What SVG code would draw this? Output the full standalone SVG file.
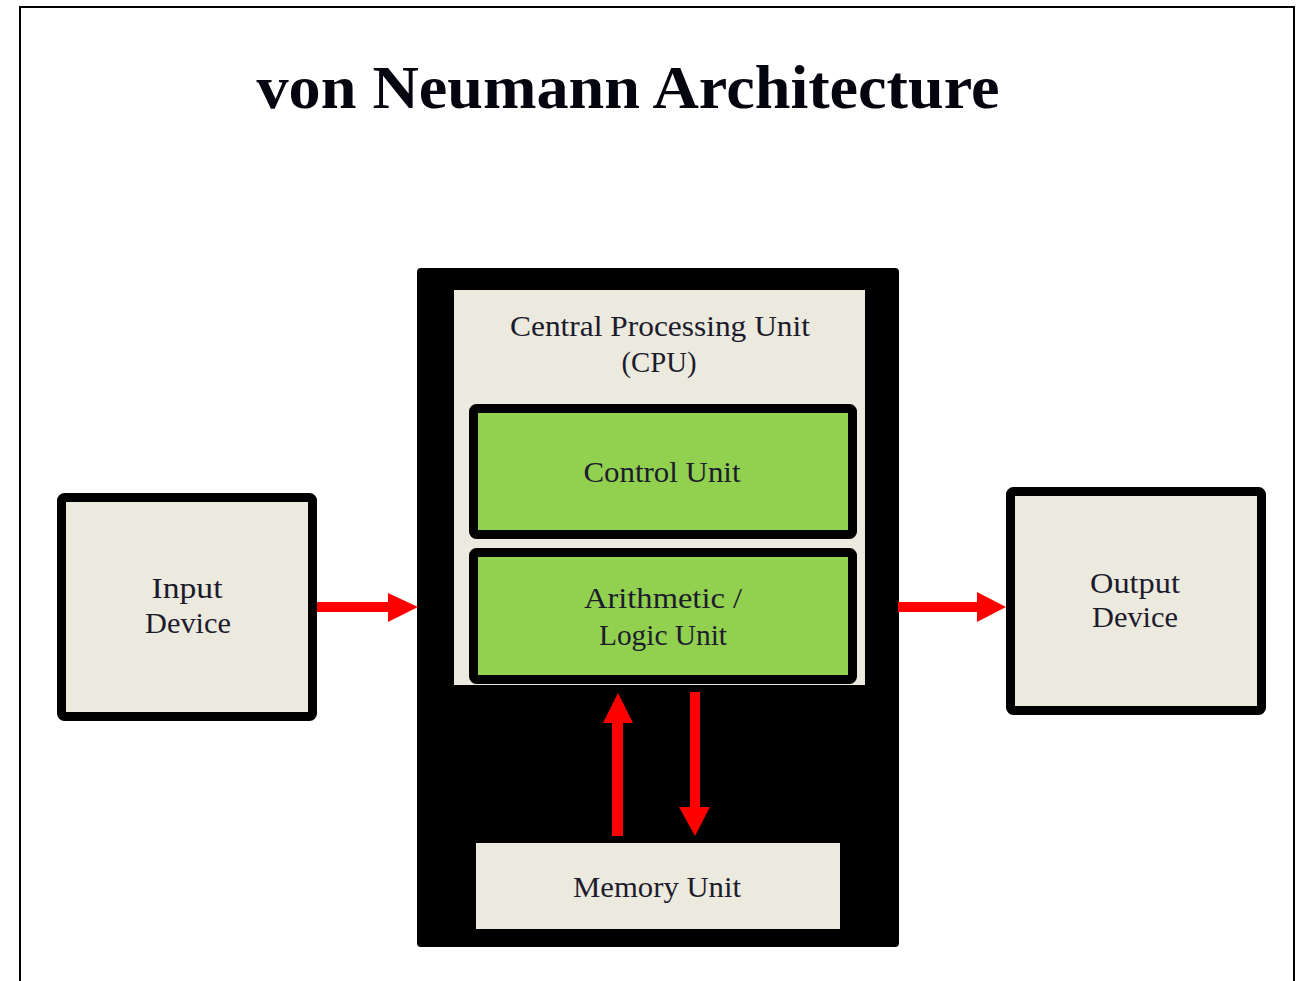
<svg xmlns="http://www.w3.org/2000/svg" width="1304" height="981" viewBox="0 0 1304 981">
  <style>
    .lbl { font-family: "Liberation Serif", "DejaVu Serif", serif; font-size: 29px; fill: #1c1c2c; text-anchor: middle; }
    .title { font-family: "Liberation Serif", "DejaVu Serif", serif; font-size: 62px; font-weight: bold; fill: #050510; text-anchor: middle; }
    .box { fill: #ece9df; stroke: #000; stroke-width: 9; }
    .unit { fill: #92d050; stroke: #000; stroke-width: 9; }
    .flow { fill: #ff0000; }
  </style>
  <rect width="1304" height="981" fill="#fff"/>
  <!-- page frame -->
  <path d="M20 985 V7 H1294 V985" fill="none" stroke="#000" stroke-width="2"/>

  <text class="title" x="628" y="108" textLength="743" lengthAdjust="spacingAndGlyphs">von Neumann Architecture</text>

  <g id="input-device">
    <rect class="box" x="61.5" y="497.5" width="251" height="219" rx="3"/>
    <text class="lbl" x="187" y="598" textLength="71" lengthAdjust="spacingAndGlyphs">Input</text>
    <text class="lbl" x="188" y="633" textLength="86" lengthAdjust="spacingAndGlyphs">Device</text>
  </g>

  <g id="cpu">
    <rect x="417" y="268" width="482" height="679" rx="4" fill="#000"/>
    <rect x="454" y="290" width="411" height="395" fill="#ece9df"/>
    <text class="lbl" x="660" y="336" textLength="300" lengthAdjust="spacingAndGlyphs">Central Processing Unit</text>
    <text class="lbl" x="659" y="372" textLength="75" lengthAdjust="spacingAndGlyphs">(CPU)</text>
  </g>

  <g id="control-unit">
    <rect class="unit" x="473.5" y="408.5" width="379" height="126" rx="3"/>
    <text class="lbl" x="662" y="482" textLength="157" lengthAdjust="spacingAndGlyphs">Control Unit</text>
  </g>

  <g id="alu">
    <rect class="unit" x="473.5" y="552.5" width="379" height="127" rx="3"/>
    <text class="lbl" x="663" y="608" textLength="158" lengthAdjust="spacingAndGlyphs">Arithmetic /</text>
    <text class="lbl" x="663" y="645" textLength="128" lengthAdjust="spacingAndGlyphs">Logic Unit</text>
  </g>

  <g id="memory-unit">
    <rect x="476" y="843" width="364" height="86" fill="#ece9df"/>
    <text class="lbl" x="657" y="897" textLength="168" lengthAdjust="spacingAndGlyphs">Memory Unit</text>
  </g>

  <g id="output-device">
    <rect class="box" x="1010.5" y="491.5" width="251" height="219" rx="3"/>
    <text class="lbl" x="1135" y="593" textLength="90" lengthAdjust="spacingAndGlyphs">Output</text>
    <text class="lbl" x="1135" y="627" textLength="86" lengthAdjust="spacingAndGlyphs">Device</text>
  </g>

  <g id="connectors">
    <!-- input -> cpu -->
    <path class="flow" d="M317 602 H388 V593 L418 607 L388 622 V612 H317 Z"/>
    <!-- cpu -> output -->
    <path class="flow" d="M898 602 H977 V592 L1006 607 L977 622 V612 H898 Z"/>
    <!-- memory -> alu -->
    <path class="flow" d="M612 836 V723 H603 L618 693 L633 723 H623 V836 Z"/>
    <!-- alu -> memory -->
    <path class="flow" d="M690 692 V807 H679 L695 836 L710 807 H700 V692 Z"/>
  </g>
</svg>
